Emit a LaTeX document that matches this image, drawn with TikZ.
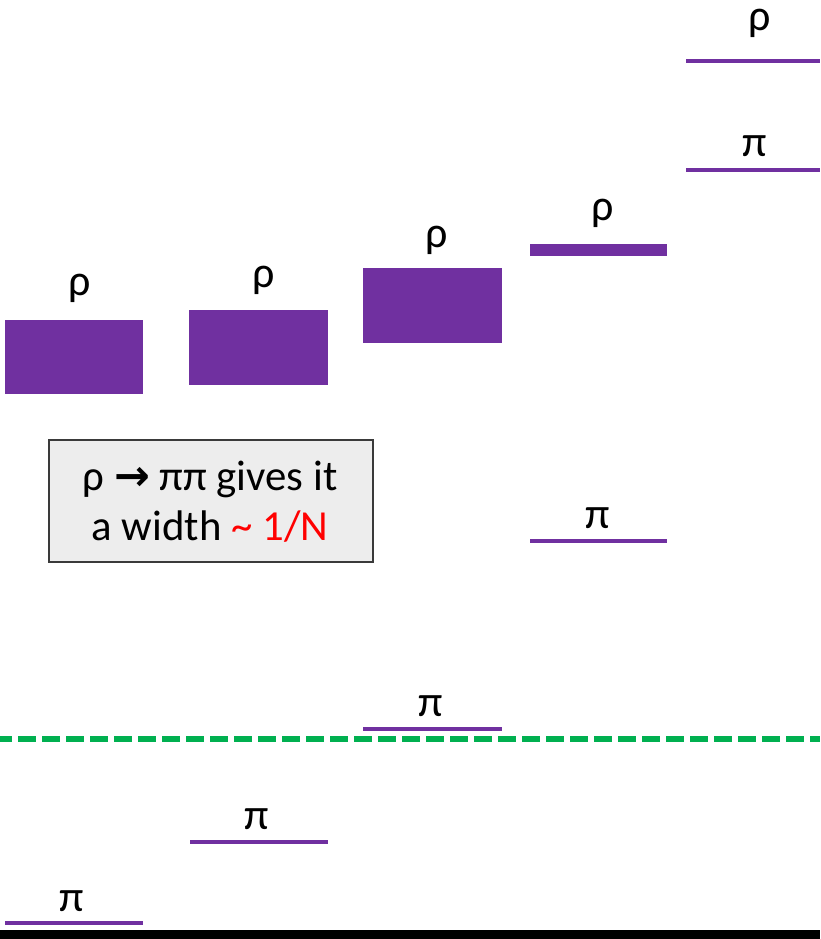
\documentclass[tikz,border=0pt]{standalone}
\usepackage{fontspec}
\setmainfont{Carlito}
\newfontfamily\arrowfont{DejaVu Sans}
\definecolor{lvlc}{HTML}{7030A0}
\definecolor{cutc}{HTML}{00B050}
\definecolor{boxfill}{HTML}{EDEDED}
\definecolor{boxline}{HTML}{3A3A3A}
\begin{document}
\begin{tikzpicture}[x=1pt,y=-1pt,
  lvl/.style={fill=lvlc},
  lab/.style={anchor=base, inner sep=0pt, font=\fontsize{44}{50}\selectfont},
  boxtxt/.style={anchor=base, inner sep=0pt, font=\fontsize{42.8}{50}\selectfont}]
\useasboundingbox (0,0) rectangle (820,939);
\fill[white] (0,0) rectangle (820,939);
% column 1
\fill[lvl] (5,320) rectangle (143,394);
\node[lab] (rho1) at (80,295) {ρ};
\fill[lvl] (5,920.5) rectangle (143,924.5);
\node[lab] (pi1) at (72,911) {π};
% column 2
\fill[lvl] (189,310) rectangle (328,385);
\node[lab] (rho2) at (264,287) {ρ};
\fill[lvl] (190,839.5) rectangle (328,843.5);
\node[lab] (pi2) at (257,829) {π};
% column 3
\fill[lvl] (363,268) rectangle (502,343);
\node[lab] (rho3) at (437,247) {ρ};
\fill[lvl] (363,727) rectangle (502,731);
\node[lab] (pi3) at (431,716) {π};
% column 4
\fill[lvl] (530,244) rectangle (667,256);
\node[lab] (rho4) at (603,220) {ρ};
\fill[lvl] (530,538.5) rectangle (667,542.5);
\node[lab] (pi4) at (598,528) {π};
% column 5
\fill[lvl] (686,59.5) rectangle (820,63.5);
\node[lab, text height=0.5em] (rho5) at (760,31) {ρ};
\fill[lvl] (686,167.5) rectangle (820,171.5);
\node[lab] (pi5) at (755,157) {π};
% threshold
\coordinate (cutL) at (0,739);
\coordinate (cutR) at (820,739);
\draw[cutc, line width=5.5pt, dash pattern=on 17.7pt off 6.3pt, dash phase=5.7pt] (cutL) -- (cutR);
% box
\node[draw=boxline, line width=1.3pt, fill=boxfill, minimum width=324pt, minimum height=122pt, inner sep=0pt] (box) at (211,501) {};
\node[boxtxt] (t1) at (210,490) {ρ {\arrowfont\bfseries →} ππ gives it};
\node[boxtxt] (t2) at (210,540) {a width \textcolor{red}{\textasciitilde{} 1/N}};
% bottom band
\fill[black] (0,930) rectangle (820,939);
\end{tikzpicture}
\end{document}
